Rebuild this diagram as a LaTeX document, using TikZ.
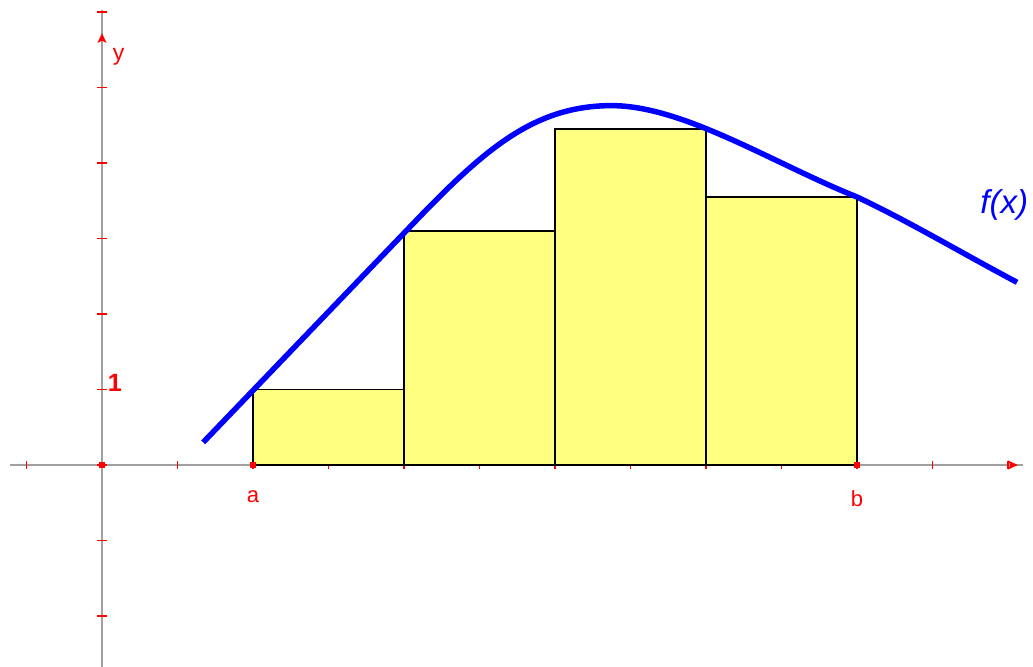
\documentclass[tikz,border=0pt]{standalone}
\usepackage{fontspec}
\setmainfont{Liberation Sans}
\usetikzlibrary{calc}
\definecolor{axisgray}{RGB}{160,160,160}
\definecolor{tickred}{RGB}{255,0,0}
\definecolor{barfill}{RGB}{255,255,128}
\definecolor{curveblue}{RGB}{0,0,255}
\tikzset{
  axisline/.style={draw=axisgray,line width=2pt},
  tickmark/.style={draw=tickred,line width=1.6pt},
  bar/.style={fill=barfill,draw=black,line width=1.5pt},
  curve/.style={draw=curveblue,line width=5.5pt,line join=round},
  redlabel/.style={text=tickred,inner sep=0pt}
}
\begin{document}
\begin{tikzpicture}[x=75.5pt,y=75.5pt]
\useasboundingbox (-1.351,-2.675) rectangle (12.331,6.159);
% axes
\coordinate (O) at (0,0);
\coordinate (xl) at (-1.22,0);
\coordinate (xr) at (12.2,0);
\coordinate (yb) at (0,-2.7);
\coordinate (yt) at (0,6.03);
\draw[axisline] (xl) -- (xr);
\draw[axisline] (yb) -- (yt);
% ticks
\foreach \i in {-1,1,2,...,12} \draw[tickmark] (\i,-0.05) -- (\i,0.05);
\foreach \j in {-2,-1,1,2,...,6} \draw[tickmark] (-0.065,\j) -- (0.065,\j);
\draw[tickmark] (-0.065,0) -- (0.065,0);
% arrow tips
\coordinate (xtip) at (12.13,0);
\coordinate (ytip) at (0,5.72);
\fill[tickred] (xtip) -- ++(-0.13,0.06) -- ++(0.03,-0.06) -- ++(-0.03,-0.06) -- cycle;
\fill[tickred] (ytip) -- ++(0.06,-0.13) -- ++(-0.06,0.03) -- ++(-0.06,-0.03) -- cycle;
% rectangles
\draw[bar] (2,0) rectangle (4,1.0);
\draw[bar] (4,0) rectangle (6,3.10);
\draw[bar] (6,0) rectangle (8,4.45);
\draw[bar] (8,0) rectangle (10,3.55);
% curve
\coordinate (c0) at (1.34,0.30);
\coordinate (c1) at (4.2,3.28);
\coordinate (c2) at (6.75,4.76);
\coordinate (c3) at (10,3.55);
\coordinate (c4) at (12.12,2.42);
\draw[curve,line cap=butt] (c0) -- (c1)
  .. controls (5.1,4.21) and (5.75,4.76) .. (c2)
  .. controls (7.7,4.76) and (8.9,3.99) .. (c3)
  .. controls (10.7,3.22) and (11.4,2.8) .. (c4);
% points
\fill[tickred] (-0.035,-0.035) rectangle (0.035,0.035);
\coordinate (a) at (2,0);
\coordinate (b) at (10,0);
\fill[tickred] ($(a)+(-0.04,-0.04)$) rectangle ($(a)+(0.04,0.04)$);
\fill[tickred] ($(b)+(-0.04,-0.04)$) rectangle ($(b)+(0.04,0.04)$);
% labels
\node[redlabel,font=\fontsize{22}{24}\selectfont] (la) at (2,-0.42) {a};
\node[redlabel,font=\fontsize{22}{24}\selectfont] (lb) at (10,-0.44) {b};
\node[redlabel,font=\fontsize{23}{25}\selectfont] (ly) at (0.22,5.4) {y};
\node[redlabel,font=\fontsize{25}{27}\selectfont\bfseries] (l1) at (0.17,1.09) {1};
\node[text=curveblue,inner sep=0pt,font=\fontsize{33}{35}\selectfont\itshape] (fx) at (11.95,3.44) {f(x)};
\end{tikzpicture}
\end{document}
